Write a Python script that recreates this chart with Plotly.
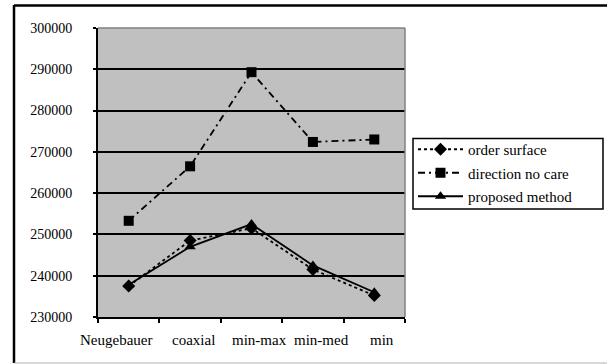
import plotly.graph_objects as go

categories = ["Neugebauer", "coaxial", "min-max", "min-med", "min"]
order_surface = [237500, 248500, 251500, 241500, 235200]
direction_no_care = [253300, 266500, 289300, 272400, 273000]
proposed_method = [237800, 247000, 252500, 242500, 236000]

y_ticks = [230000, 240000, 250000, 260000, 270000, 280000, 290000, 300000]

FONT = "Liberation Serif"

fig = go.Figure()
fig.add_trace(go.Scatter(
    x=categories, y=order_surface, name="order surface", mode="lines+markers",
    line=dict(color="black", width=1.8, dash="3px,3px"),
    marker=dict(symbol="diamond", size=10, color="black"),
    legendgroup="a",
))
fig.add_trace(go.Scatter(
    x=categories, y=direction_no_care, name="direction no care", mode="lines+markers",
    line=dict(color="black", width=1.8, dash="7px,4px,2px,4px"),
    marker=dict(symbol="square", size=10, color="black"),
    legendgroup="b",
))
fig.add_trace(go.Scatter(
    x=categories, y=proposed_method, name="proposed method", mode="lines+markers",
    line=dict(color="black", width=1.8),
    marker=dict(symbol="triangle-up", size=10, color="black"),
    legendgroup="c",
))

L, R, T, B = 98, 405, 28, 317
def px(x):
    return (x - L) / (R - L)
def py(y):
    return (B - y) / (B - T)

shapes = [
    dict(type="line", xref="paper", yref="paper", x0=0, x1=1, y0=1, y1=1,
         line=dict(color="#808080", width=1.5), layer="above"),
    dict(type="line", xref="paper", yref="paper", x0=1, x1=1, y0=0, y1=1,
         line=dict(color="#808080", width=1.5), layer="above"),
    dict(type="line", xref="paper", yref="paper", x0=px(14), x1=px(607), y0=py(5.5), y1=py(5.5),
         line=dict(color="black", width=2.5)),
    dict(type="line", xref="paper", yref="paper", x0=px(14), x1=px(14), y0=py(5), y1=py(363),
         line=dict(color="black", width=2.5)),
    dict(type="line", xref="paper", yref="paper", x0=px(14), x1=px(607), y0=py(363), y1=py(363),
         line=dict(color="#b0b0b0", width=1)),
    # legend frame
    dict(type="rect", xref="paper", yref="paper", x0=px(413), x1=px(603), y0=py(138.5), y1=py(209),
         line=dict(color="black", width=1.5), fillcolor="white", layer="above"),
]

# category tick labels as annotations (nudged like the original layout)
label_shift = [-12.5, 3, 8, 9, 8]
annotations = [
    dict(x=c, y=py(340), xref="x", yref="paper", text=c, showarrow=False,
         xshift=s, yanchor="middle", xanchor="center",
         font=dict(family=FONT, size=15, color="black"))
    for c, s in zip(categories, label_shift)
]

fig.update_layout(
    width=607, height=364,
    margin=dict(l=L, r=607 - R, t=T, b=364 - B),
    paper_bgcolor="white",
    plot_bgcolor="#C0C0C0",
    font=dict(family=FONT, size=14, color="black"),
    showlegend=True,
    legend=dict(
        x=px(413), y=py(133), xanchor="left", yanchor="top",
        borderwidth=0, bgcolor="rgba(0,0,0,0)",
        font=dict(family=FONT, size=15, color="black"),
        traceorder="grouped", tracegroupgap=1,
        itemwidth=45,
    ),
    xaxis=dict(
        type="category", range=[-0.5, 4.5],
        showline=True, linecolor="black", linewidth=2,
        ticks="outside", ticklen=4, tickwidth=1.5, tickcolor="black",
        tickson="boundaries", showgrid=False,
        showticklabels=False,
        fixedrange=True,
    ),
    yaxis=dict(
        range=[230000, 300000], tickvals=y_ticks, tickformat="d",
        showline=True, linecolor="black", linewidth=2,
        ticks="outside", ticklen=3, tickwidth=1.5, tickcolor="black",
        showgrid=True, gridcolor="black", gridwidth=1.5,
        zeroline=False,
        ticklabelstandoff=18,
        fixedrange=True,
    ),
    shapes=shapes,
    annotations=annotations,
)

fig.write_html("out.html")
